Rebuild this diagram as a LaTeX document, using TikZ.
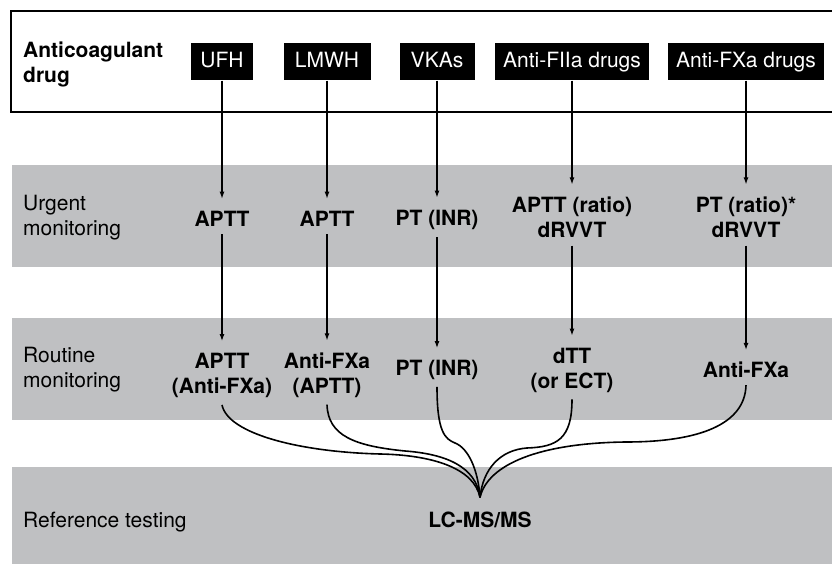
\documentclass[tikz,border=0pt]{standalone}
\usepackage{fontspec}
\setmainfont{TeX Gyre Heros}
\usetikzlibrary{arrows.meta}
\definecolor{bandgray}{RGB}{191,192,194}
\tikzset{
  drug/.style={fill=black,text=white,minimum height=37pt,inner xsep=0pt,inner ysep=0pt,
    text height=15.2pt,text depth=4.6pt,font=\fontsize{21}{25}\selectfont},
  test/.style={inner sep=0pt,align=center,font=\fontsize{21}{25}\selectfont\bfseries},
  rowlabel/.style={anchor=west,inner sep=0pt,align=left,font=\fontsize{21}{25}\selectfont},
}

\begin{document}
\begin{tikzpicture}[x=1pt,y=1pt]
  \useasboundingbox (0,0) rectangle (832,564);
  \clip (0,0) rectangle (832,564);
  \fill[bandgray] (12,297) rectangle (840,399);
  \fill[bandgray] (12,144) rectangle (840,246);
  \fill[bandgray] (12,-5) rectangle (840,97);
  \draw[line width=1.2pt] (11,452) rectangle (840,553);

  \node[rowlabel,font=\fontsize{21}{25}\selectfont\bfseries] (drugs) at (23,500) {Anticoagulant\\drug};
  \node[rowlabel] (urgent) at (23,346) {Urgent\\monitoring};
  \node[rowlabel] (routine) at (23,194) {Routine\\monitoring};
  \node[rowlabel] (reference) at (23,42) {Reference testing};

  \node[drug,minimum width=62pt] (ufh) at (222,502) {UFH};
  \node[drug,minimum width=87pt] (lmwh) at (327,502) {LMWH};
  \node[drug,minimum width=75pt] (vka) at (437,502) {VKAs};
  \node[drug,minimum width=154pt] (fiia) at (572,502) {Anti-FIIa drugs};
  \node[drug,minimum width=156pt] (fxa) at (746,502) {Anti-FXa drugs};

  \node[test] (uUFH) at (222,345.5) {APTT};
  \node[test] (uLMWH) at (327,345.5) {APTT};
  \node[test] (uVKA) at (437,344.5) {PT (INR)};
  \node[test] (uFIIa) at (572,347) {APTT (ratio)\\dRVVT};
  \node[test] (uFXa) at (746,347) {PT (ratio)*\\dRVVT};

  \node[test] (rUFH) at (222,188.5) {APTT\\(Anti-FXa)};
  \node[test] (rLMWH) at (327,189) {Anti-FXa\\(APTT)};
  \node[test] (rVKA) at (437,194) {PT (INR)};
  \node[test] (rFIIa) at (572,194) {dTT\\(or ECT)};
  \node[test] (rFXa) at (746,194) {Anti-FXa};

  \node[test] (lcms) at (480,44.5) {LC-MS/MS};
  \coordinate (hub) at ([yshift=14pt]lcms.north);

  \begin{scope}[-{Latex[length=7pt,width=5pt]},line width=1.1pt]
    \draw[shorten >=12pt] (ufh) -- (uUFH);
    \draw[shorten >=12pt] (lmwh) -- (uLMWH);
    \draw[shorten >=12pt] (vka) -- (uVKA);
    \draw[shorten >=12pt] (fiia) -- (uFIIa);
    \draw[shorten >=12pt] (fxa) -- (uFXa);
    \draw[shorten <=8pt,shorten >=12pt] (uUFH) -- (rUFH);
    \draw[shorten <=8pt,shorten >=12pt] (uLMWH) -- (rLMWH);
    \draw[shorten <=8pt,shorten >=12pt] (uVKA) -- (rVKA);
    \draw[shorten <=8pt,shorten >=12pt] (uFIIa) -- (rFIIa);
    \draw[shorten <=8pt,shorten >=12pt] (uFXa) -- (rFXa);
  \end{scope}

  \begin{scope}[line width=1.6pt]
    \draw ([yshift=-7pt]rUFH.south) .. controls (228,130) and (300,112) .. (380,110)
      .. controls (432,109) and (474,96) .. (hub);
    \draw ([yshift=-7pt]rLMWH.south) .. controls (328,128) and (355,118) .. (405,113)
      .. controls (445,110) and (476,98) .. (hub);
    \draw ([yshift=-7pt]rVKA.south) .. controls (437,132) and (445,125) .. (455,121)
      .. controls (468,116) and (478,95) .. (hub);
    \draw ([yshift=-7pt]rFIIa.south) .. controls (572,125) and (557,117) .. (527,116)
      .. controls (500,114) and (483,95) .. (hub);
    \draw ([yshift=-7pt]rFXa.south) .. controls (745,140) and (700,122) .. (626,122)
      .. controls (540,121) and (488,100) .. (hub);
  \end{scope}
\end{tikzpicture}
\end{document}
